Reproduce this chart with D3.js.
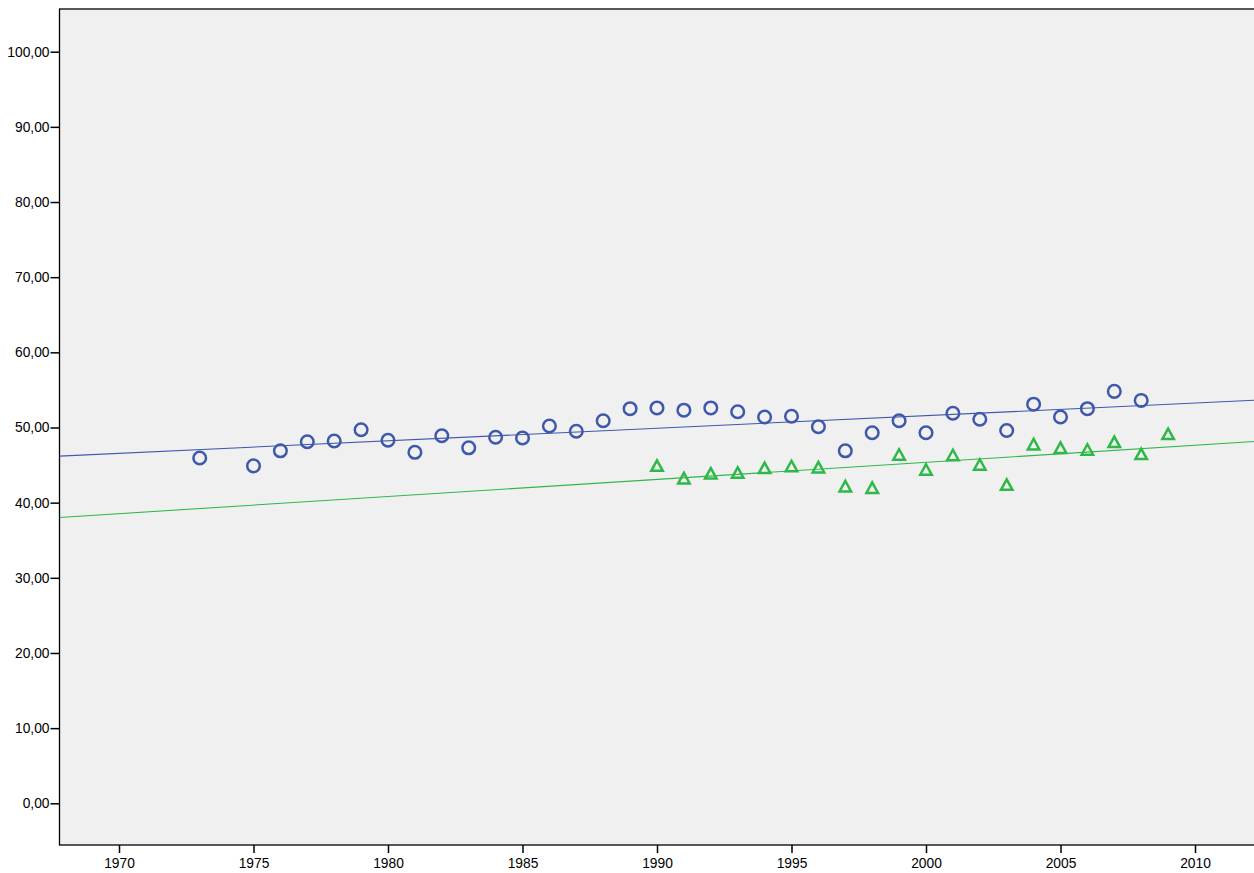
<!DOCTYPE html>
<html>
<head>
<meta charset="utf-8">
<script src="https://cdn.jsdelivr.net/npm/d3@7"></script>
<style>
  html, body { margin: 0; padding: 0; background: #ffffff; }
  svg { display: block; }
  text { font-family: "Liberation Sans", Arial, sans-serif; }
</style>
</head>
<body>
<svg id="chart" width="1254" height="873"></svg>
<script>
// Series A (circles)
const yearsA = [1973, 1975, 1976, 1977, 1978, 1979, 1980, 1981, 1982, 1983,
                1984, 1985, 1986, 1987, 1988, 1989, 1990, 1991, 1992, 1993,
                1994, 1995, 1996, 1997, 1998, 1999, 2000, 2001, 2002, 2003,
                2004, 2005, 2006, 2007, 2008];
const valuesA = [45.94, 44.90, 46.90, 48.10, 48.20, 49.70, 48.30, 46.70, 48.90, 47.30,
                 48.70, 48.60, 50.20, 49.50, 50.90, 52.50, 52.60, 52.30, 52.60, 52.10,
                 51.40, 51.50, 50.10, 46.90, 49.30, 50.90, 49.30, 51.90, 51.10, 49.60,
                 53.10, 51.40, 52.50, 54.80, 53.60];
// Series B (triangles)
const yearsB = [1990, 1991, 1992, 1993, 1994, 1995, 1996, 1997, 1998, 1999,
                2000, 2001, 2002, 2003, 2004, 2005, 2006, 2007, 2008, 2009];
const valuesB = [44.94, 43.26, 43.90, 44.00, 44.64, 44.88, 44.72, 42.19, 42.00, 46.41,
                 44.41, 46.34, 45.08, 42.40, 47.78, 47.31, 47.07, 48.10, 46.50, 49.16];

const xTicks = [1970, 1975, 1980, 1985, 1990, 1995, 2000, 2005, 2010];
const yTicks = [0, 10, 20, 30, 40, 50, 60, 70, 80, 90, 100];

const colorA = "#3e58ac";
const colorB = "#2eb848";

const svg = d3.select("#chart");
const plot = { left: 59.5, top: 9, right: 1262, bottom: 845 };

const x = d3.scaleLinear().domain([1970, 2010]).range([119, 1195]);
const y = d3.scaleLinear().domain([0, 100]).range([803.3, 51.7]);

// Plot background
svg.append("rect")
  .attr("x", plot.left).attr("y", plot.top)
  .attr("width", plot.right - plot.left).attr("height", plot.bottom - plot.top)
  .attr("fill", "#f0f0f0").attr("stroke", "#000").attr("stroke-width", 1.3);

svg.append("clipPath").attr("id", "clip")
  .append("rect")
  .attr("x", plot.left).attr("y", plot.top)
  .attr("width", plot.right - plot.left).attr("height", plot.bottom - plot.top);

// Axes
const fmt = d => d.toFixed(2).replace(".", ",");
const yAxis = svg.append("g")
  .attr("transform", `translate(${plot.left},0)`)
  .call(d3.axisLeft(y).tickValues(yTicks).tickFormat(fmt).tickSize(9).tickPadding(1));
const xAxis = svg.append("g")
  .attr("transform", `translate(0,${plot.bottom})`)
  .call(d3.axisBottom(x).tickValues(xTicks).tickFormat(d3.format("d")).tickSize(8).tickPadding(5));

[yAxis, xAxis].forEach(g => {
  g.select(".domain").remove();
  g.selectAll(".tick line").attr("stroke", "#000").attr("stroke-width", 1.5);
  g.selectAll(".tick text").attr("fill", "#000")
    .style("font-family", '"Liberation Sans", Arial, sans-serif')
    .style("font-size", "13.8px");
});

// Least squares fit lines from the data
function fit(xs, ys) {
  const mx = d3.mean(xs), my = d3.mean(ys);
  let sxy = 0, sxx = 0;
  xs.forEach((v, i) => { sxy += (v - mx) * (ys[i] - my); sxx += (v - mx) * (v - mx); });
  const b = sxy / sxx;
  return t => my + b * (t - mx);
}
const x0 = x.invert(plot.left), x1 = x.invert(1254);
const g = svg.append("g").attr("clip-path", "url(#clip)");
[[yearsA, valuesA, colorA], [yearsB, valuesB, colorB]].forEach(([xs, ys, c]) => {
  const f = fit(xs, ys);
  g.append("line")
    .attr("x1", x(x0)).attr("y1", y(f(x0)))
    .attr("x2", x(x1)).attr("y2", y(f(x1)))
    .attr("stroke", c).attr("stroke-width", 1.1);
});

// Circles
g.selectAll("circle.a")
  .data(yearsA.map((yr, i) => ({ yr, v: valuesA[i] })))
  .join("circle")
  .attr("class", "a")
  .attr("cx", d => x(d.yr)).attr("cy", d => y(d.v))
  .attr("r", 6.3)
  .attr("fill", "none").attr("stroke", colorA).attr("stroke-width", 2.5);

// Triangles
const tri = (cx, cy) => {
  const h = 10.5, w = 11.5;
  return `M${cx},${cy - h / 2}L${cx + w / 2},${cy + h / 2}L${cx - w / 2},${cy + h / 2}Z`;
};
g.selectAll("path.b")
  .data(yearsB.map((yr, i) => ({ yr, v: valuesB[i] })))
  .join("path")
  .attr("class", "b")
  .attr("d", d => tri(x(d.yr), y(d.v)))
  .attr("fill", "none").attr("stroke", colorB).attr("stroke-width", 2.5)
  .attr("stroke-linejoin", "miter");
</script>
</body>
</html>
